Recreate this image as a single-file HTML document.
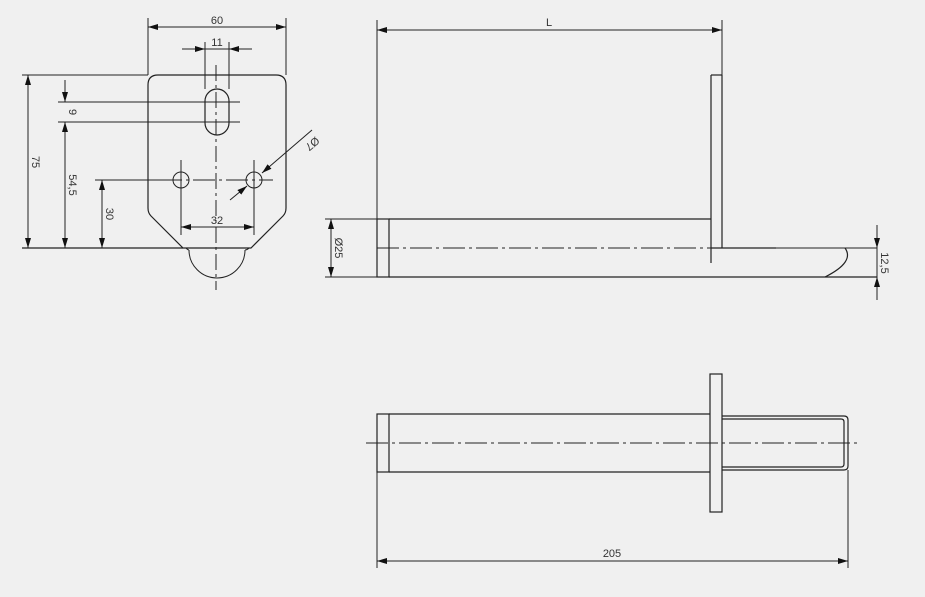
<!DOCTYPE html>
<html><head><meta charset="utf-8"><style>
html,body{margin:0;padding:0;background:#f0f0f0;}
svg{display:block;}
text{font-family:"Liberation Sans",sans-serif;font-size:11px;fill:#333;}
</style></head><body>
<svg width="925" height="597" viewBox="0 0 925 597" xmlns="http://www.w3.org/2000/svg">
<defs>
<marker id="a" viewBox="0 0 10 6" refX="10" refY="3" markerWidth="10" markerHeight="6" orient="auto-start-reverse" markerUnits="userSpaceOnUse"><path d="M0,0L10,3L0,6z" fill="#111"/></marker>
</defs>
<g stroke="#222" stroke-width="1" fill="none">
<path d="M148,85 Q148,75 158,75 L276,75 Q286,75 286,85 L286,208 Q286,213 283,216 L251,248 L183,248 L151,216 Q148,213 148,208 Z" stroke-width="1.2"/>
<path d="M189,250 A28,28 0 0 0 245,250" />
<path d="M186,248 Q188,250 189,250 M245,250 Q247,250 249,248"/>
<rect x="205" y="89" width="24" height="46" rx="12" stroke-width="1.2"/>
<circle cx="181" cy="180" r="8"/>
<circle cx="254" cy="180" r="8"/>
<line x1="216" y1="65" x2="216" y2="290" stroke-dasharray="16,4,3,4"/>
<line x1="160" y1="180" x2="273" y2="180" stroke-dasharray="22,4,3,4"/>
<line x1="181" y1="160" x2="181" y2="235"/>
<line x1="254" y1="160" x2="254" y2="235"/>
<line x1="148" y1="18" x2="148" y2="75"/>
<line x1="286" y1="18" x2="286" y2="75"/>
<line x1="205" y1="42" x2="205" y2="89"/>
<line x1="229" y1="42" x2="229" y2="89"/>
<line x1="22" y1="75" x2="148" y2="75"/>
<line x1="22" y1="248" x2="183" y2="248" stroke-width="1.2"/>
<line x1="58" y1="102" x2="240" y2="102"/>
<line x1="58" y1="122" x2="240" y2="122"/>
<line x1="95" y1="180" x2="170" y2="180"/>
<line x1="148" y1="27" x2="286" y2="27" marker-start="url(#a)" marker-end="url(#a)"/>
<line x1="182" y1="49" x2="205" y2="49" marker-end="url(#a)"/>
<line x1="252" y1="49" x2="229" y2="49" marker-end="url(#a)"/>
<line x1="205" y1="49" x2="229" y2="49"/>
<line x1="28" y1="75" x2="28" y2="248" marker-start="url(#a)" marker-end="url(#a)"/>
<line x1="65" y1="80" x2="65" y2="102" marker-end="url(#a)"/>
<line x1="65" y1="122" x2="65" y2="248" marker-start="url(#a)" marker-end="url(#a)"/>
<line x1="102" y1="180" x2="102" y2="248" marker-start="url(#a)" marker-end="url(#a)"/>
<line x1="181" y1="227" x2="254" y2="227" marker-start="url(#a)" marker-end="url(#a)"/>
<line x1="312" y1="130" x2="262" y2="173" marker-end="url(#a)"/>
<line x1="230" y1="200" x2="247" y2="186" marker-end="url(#a)"/>

<line x1="377" y1="20" x2="377" y2="219"/>
<line x1="722" y1="20" x2="722" y2="75"/>
<line x1="377" y1="30" x2="722" y2="30" marker-start="url(#a)" marker-end="url(#a)"/>
<line x1="325" y1="219" x2="377" y2="219"/>
<line x1="325" y1="277" x2="377" y2="277"/>
<line x1="331" y1="219" x2="331" y2="277" marker-start="url(#a)" marker-end="url(#a)"/>
<g stroke-width="1.2">
<rect x="377" y="219" width="12" height="58"/>
<line x1="389" y1="219" x2="711" y2="219"/>
<line x1="389" y1="277" x2="877" y2="277"/>
<line x1="711" y1="75" x2="711" y2="263"/>
<line x1="722" y1="75" x2="722" y2="248"/>
<line x1="711" y1="75" x2="722" y2="75"/>
<line x1="711" y1="248" x2="776" y2="248"/>
<path d="M845,248 Q855,262 825,277"/>
</g>
<line x1="377" y1="248" x2="711" y2="248" stroke-dasharray="22,4,3,4"/>
<line x1="776" y1="248" x2="877" y2="248"/>
<line x1="877" y1="225" x2="877" y2="248" marker-end="url(#a)"/>
<line x1="877" y1="300" x2="877" y2="277" marker-end="url(#a)"/>
<line x1="877" y1="248" x2="877" y2="277"/>

<g stroke-width="1.2">
<rect x="377" y="414" width="12" height="58"/>
<line x1="389" y1="414" x2="710" y2="414"/>
<line x1="389" y1="472" x2="710" y2="472"/>
<rect x="710" y="374" width="12" height="138"/>
<path d="M722,416 L844,416 Q848,416 848,420 L848,466 Q848,470 844,470 L722,470"/>
<path d="M722,419 L841,419 Q844,419 844,422 L844,464 Q844,467 841,467 L722,467"/>
</g>
<line x1="366" y1="443" x2="860" y2="443" stroke-dasharray="22,4,3,4"/>
<line x1="377" y1="472" x2="377" y2="568"/>
<line x1="848" y1="470" x2="848" y2="568"/>
<line x1="377" y1="561" x2="848" y2="561" marker-start="url(#a)" marker-end="url(#a)"/>
</g>
<text x="217" y="24" text-anchor="middle">60</text>
<text x="217" y="46" text-anchor="middle">11</text>
<text x="217" y="224" text-anchor="middle">32</text>
<text transform="translate(32,162) rotate(90)" text-anchor="middle">75</text>
<text transform="translate(69,112) rotate(90)" text-anchor="middle">9</text>
<text transform="translate(69,185) rotate(90)" text-anchor="middle">54,5</text>
<text transform="translate(106,214) rotate(90)" text-anchor="middle">30</text>
<text transform="translate(310,141) rotate(140)" text-anchor="middle" font-size="13">Ø7</text>
<text x="549" y="26" text-anchor="middle">L</text>
<text transform="translate(335,248) rotate(90)" text-anchor="middle">Ø25</text>
<text transform="translate(881,263) rotate(90)" text-anchor="middle">12,5</text>
<text x="612" y="557" text-anchor="middle">205</text>
</svg>
</body></html>
